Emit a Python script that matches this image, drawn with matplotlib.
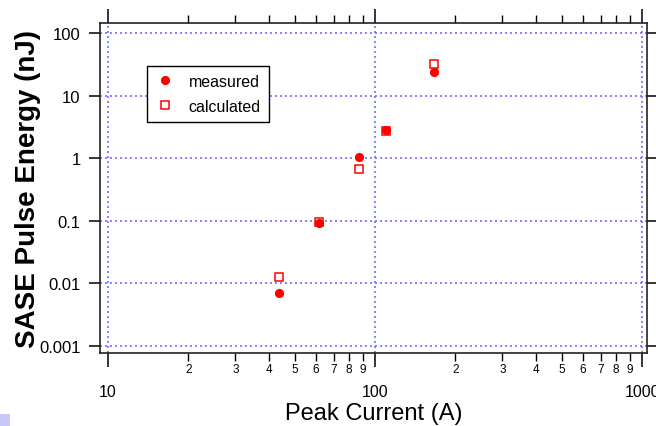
import matplotlib
matplotlib.use("Agg")
import matplotlib.pyplot as plt
from matplotlib.ticker import FixedLocator, FixedFormatter
from matplotlib.patches import Rectangle

# Peak current (A) and SASE pulse energy (nJ)
current_measured = [43.8, 61.8, 87.3, 110, 166]
energy_measured = [0.0070, 0.092, 1.03, 2.85, 23.5]
current_calculated = [43.8, 61.8, 87.3, 110, 166]
energy_calculated = [0.0125, 0.095, 0.68, 2.75, 32.5]

x_major = [10, 100, 1000]
x_major_labels = ["10", "100", "1000"]
x_minor = [20, 30, 40, 50, 60, 70, 80, 90,
           200, 300, 400, 500, 600, 700, 800, 900]
x_minor_labels = ["2", "3", "4", "5", "6", "7", "8", "9",
                  "2", "3", "4", "5", "6", "7", "8", "9"]
y_major = [0.001, 0.01, 0.1, 1, 10, 100]
y_major_labels = ["0.001", "0.01", "0.1", "1", "10", "100"]

W, H = 656, 427
plt.rcParams["font.family"] = ["Liberation Sans", "DejaVu Sans"]

fig = plt.figure(figsize=(W / 100, H / 100), dpi=100)
fig.patch.set_facecolor("white")

# frame in pixels: left 100, right 647, top 24, bottom 354
L, R, T, B = 100, 647, 24, 354
ax = fig.add_axes([L / W, 1 - B / H, (R - L) / W, (B - T) / H])

ax.set_xscale("log")
ax.set_yscale("log")
ax.set_xlim(9.33, 1044)
ax.set_ylim(0.000773, 144.4)

red = "#ff0000"
ax.plot(current_measured, energy_measured, linestyle="none", marker="o",
        markersize=6.6, color=red, markeredgewidth=0, label="measured", zorder=3)
ax.plot(current_calculated, energy_calculated, linestyle="none", marker="s",
        markersize=6.3, markerfacecolor="none", markeredgecolor=red,
        markeredgewidth=1.1, label="calculated", zorder=4)

# dotted grid at decades
grid_color = "#7070ff"
for xv in x_major:
    ax.axvline(xv, color=grid_color, linewidth=1.2, linestyle=(0, (1.2, 1.8)), zorder=1)
for yv in y_major:
    ax.axhline(yv, color=grid_color, linewidth=1.2, linestyle=(0, (1.2, 1.8)), zorder=1)

ax.xaxis.set_major_locator(FixedLocator(x_major))
ax.xaxis.set_major_formatter(FixedFormatter(x_major_labels))
ax.xaxis.set_minor_locator(FixedLocator(x_minor))
ax.xaxis.set_minor_formatter(FixedFormatter(x_minor_labels))
ax.yaxis.set_major_locator(FixedLocator(y_major))
ax.yaxis.set_major_formatter(FixedFormatter(y_major_labels))
ax.yaxis.set_minor_locator(FixedLocator([]))

ax.tick_params(axis="x", which="major", direction="out", length=10, width=1.1,
               labelsize=11.5, pad=12, top=True, bottom=True, labeltop=False)
ax.tick_params(axis="x", which="minor", direction="out", length=5.5, width=1.0,
               labelsize=8.5, pad=1.5, top=True, bottom=True, labeltop=False)
ax.tick_params(axis="y", which="major", direction="out", length=8, width=1.1,
               labelsize=12, pad=6, left=True, right=True, labelright=False)

for s in ax.spines.values():
    s.set_linewidth(1.2)
    s.set_color("#222222")

ax.set_xlabel("Peak Current (A)", fontsize=17, labelpad=2.5)
ax.set_ylabel("SASE Pulse Energy (nJ)", fontsize=20, fontweight="bold", labelpad=-1.5)

leg = ax.legend(loc="upper left",
                bbox_to_anchor=((147 - L) / (R - L), 1 - (67 - T) / (B - T)),
                borderaxespad=0, fancybox=False, framealpha=1, edgecolor="black",
                fontsize=11.5, handletextpad=0.8, borderpad=0.5, labelspacing=0.6,
                handlelength=1.3)
leg.get_frame().set_linewidth(1.0)

# small corner tab
fig.patches.append(Rectangle((0, 0), 10 / W, 12 / H, transform=fig.transFigure,
                             facecolor="#c8c8f8", edgecolor="none"))

fig.savefig("out.png", dpi=100)
